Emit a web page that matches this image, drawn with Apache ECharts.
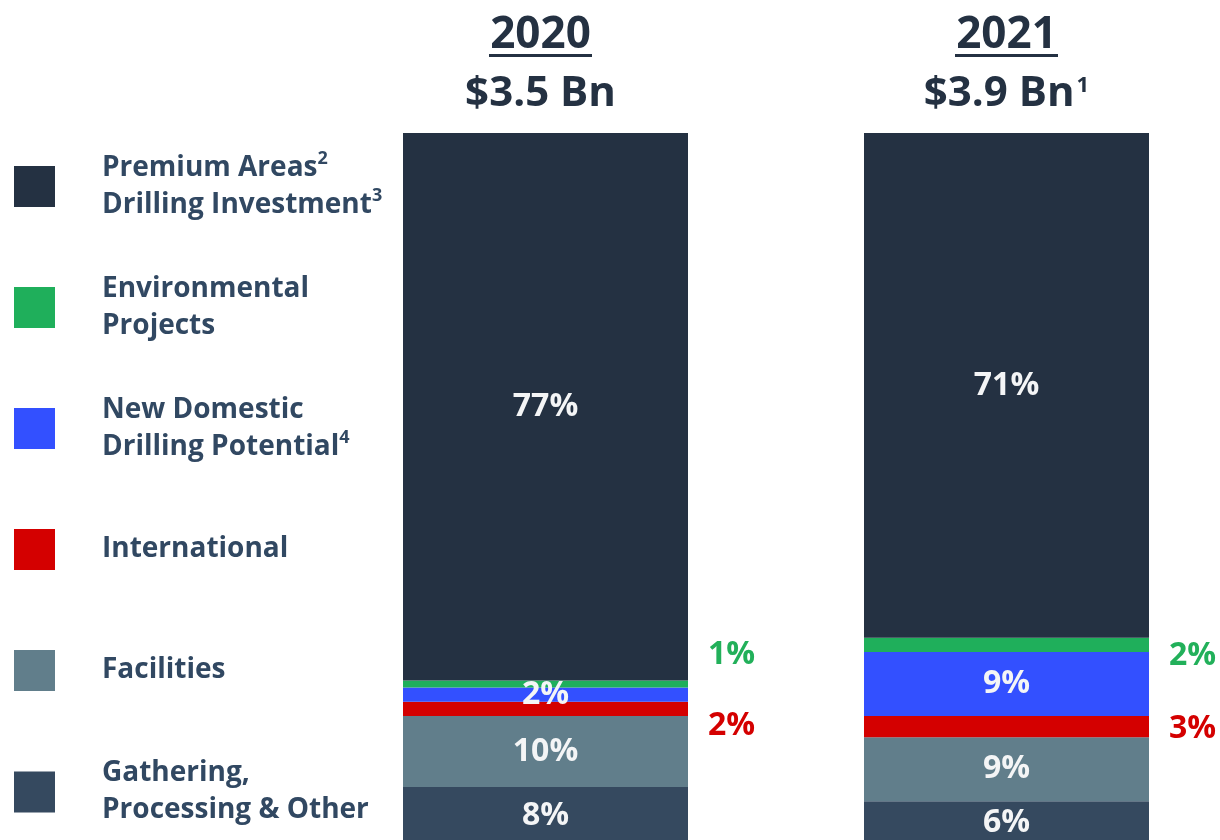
<!DOCTYPE html>
<html>
<head>
<meta charset="utf-8">
<title>Capital allocation 2020 vs 2021</title>
<script src="https://cdn.jsdelivr.net/npm/echarts@6/dist/echarts.min.js"></script>
<style>
  html, body { margin: 0; padding: 0; background: #ffffff; }
  #chart { width: 1220px; height: 840px; }
</style>
</head>
<body>
<div id="chart"></div>
<script>
// ---- data ----
const years = ['2020', '2021'];
const totals = ['$3.5 Bn', '$3.9 Bn'];
const totalNotes = ['', '1'];

// shares of capital (%) per year, bottom of the stack first
const gathering = [8, 6];
const facilities = [10, 9];
const international = [2, 3];
const newDomestic = [2, 9];
const environmental = [1, 2];
const premium = [77, 71];

// legend wording (one entry per line) and footnote markers per line
const legendLines = [
  ['Premium Areas', 'Drilling Investment'],
  ['Environmental', 'Projects'],
  ['New Domestic', 'Drilling Potential'],
  ['International'],
  ['Facilities'],
  ['Gathering,', 'Processing & Other']
];
const legendNotes = [['2', '3'], ['', ''], ['', '4'], [''], [''], ['', '']];

// ---- styling ----
const FONT = '"Open Sans", "Noto Sans", sans-serif';
const TITLE_COLOR = '#243142';
const LEGEND_TEXT = '#314862';
const colors = {
  premium: '#243142',
  environmental: '#1faf5b',
  newDomestic: '#3350ff',
  international: '#d40000',
  facilities: '#617e8b',
  gathering: '#35495f'
};

const names = legendLines.map(l => l.join(' '));
const [nPremium, nEnv, nNewDom, nIntl, nFac, nGath] = names;

// small segments get their labels beside the bar
const envLabelOffset = [[0, -29], [0, 11]];
const intlLabelOffset = [[0, 17], [0, 2]];

const insideLabel = {
  show: true,
  position: 'inside',
  formatter: '{c}%',
  fontFamily: FONT,
  fontWeight: 'bold',
  fontSize: 32,
  color: '#f4f5f6'
};

function outsideItems(values, offsets, color) {
  return values.map((v, i) => ({
    value: v,
    label: {
      show: true,
      position: 'right',
      distance: 20,
      offset: offsets[i],
      color: color,
      formatter: '{c}%',
      fontFamily: FONT,
      fontWeight: 'bold',
      fontSize: 32
    }
  }));
}

function barSeries(name, data, color, label) {
  return {
    name: name,
    type: 'bar',
    stack: 'capital',
    barWidth: 285,
    data: data,
    itemStyle: { color: color },
    label: label || insideLabel,
    emphasis: { disabled: true }
  };
}

// one legend per entry so every swatch sits on its own row
const legendIconTops = [166, 287, 408, 529, 650, 771];
const legendTopNudge = [0, 4.5, 4.5, 0, 0, 5];
const LINE_H = 37;
const ICON = 41;
const legends = names.map((n, i) => {
  const textH = legendLines[i].length * LINE_H;
  const top = legendIconTops[i] - Math.max(0, (textH - ICON) / 2) + legendTopNudge[i];
  return {
    data: [n],
    left: 14,
    top: top,
    padding: 0,
    icon: 'rect',
    itemWidth: ICON,
    itemHeight: ICON,
    selectedMode: false,
    formatter: function (name) {
      const k = names.indexOf(name);
      return legendLines[k].map((line, j) =>
        '{t|' + line + '}' + (legendNotes[k][j] ? '{s|' + legendNotes[k][j] + '}' : '')
      ).join('\n');
    },
    textStyle: {
      padding: [0, 0, 0, 42],
      rich: {
        t: { fontFamily: FONT, fontWeight: 'bold', fontSize: 28, lineHeight: LINE_H, color: LEGEND_TEXT },
        s: { fontFamily: FONT, fontWeight: 'bold', fontSize: 18, lineHeight: 24, verticalAlign: 'top', color: LEGEND_TEXT }
      }
    }
  };
});

const chart = echarts.init(document.getElementById('chart'), null, { renderer: 'canvas' });

chart.setOption({
  backgroundColor: '#ffffff',
  animation: false,
  legend: legends,
  grid: {
    left: 315,
    top: 133,
    width: 922,
    height: 711,
    containLabel: false,
    outerBoundsMode: 'none'
  },
  xAxis: {
    type: 'category',
    data: [
      { value: years[0], textStyle: { padding: [0, 10, 0, 0] } },
      { value: years[1] }
    ],
    position: 'top',
    axisLine: { show: false },
    axisTick: { show: false },
    splitLine: { show: false },
    axisLabel: {
      margin: 2,
      interval: 0,
      formatter: function (value, idx) {
        return '{yr|' + value + '}\n{ul| }\n{amt|' + totals[idx] + '}' +
          (totalNotes[idx] ? '{sup|' + totalNotes[idx] + '}' : '');
      },
      rich: {
        yr: { fontFamily: FONT, fontWeight: 'bold', fontSize: 44, lineHeight: 38, color: TITLE_COLOR },
        ul: { fontSize: 1, width: 103, height: 3, lineHeight: 3, backgroundColor: TITLE_COLOR },
        amt: { fontFamily: FONT, fontWeight: 'bold', fontSize: 42, lineHeight: 74, color: TITLE_COLOR },
        sup: { fontFamily: FONT, fontWeight: 'bold', fontSize: 22, lineHeight: 22, padding: [0, 0, 16, 2], color: TITLE_COLOR }
      }
    }
  },
  yAxis: {
    type: 'value',
    min: 0,
    max: 100,
    show: false
  },
  series: [
    barSeries(nGath, gathering, colors.gathering),
    barSeries(nFac, facilities, colors.facilities),
    barSeries(nIntl, outsideItems(international, intlLabelOffset, '#d40000'), colors.international),
    barSeries(nNewDom, newDomestic, colors.newDomestic),
    barSeries(nEnv, outsideItems(environmental, envLabelOffset, '#22b05a'), colors.environmental),
    barSeries(nPremium, premium, colors.premium)
  ]
});
</script>
</body>
</html>
